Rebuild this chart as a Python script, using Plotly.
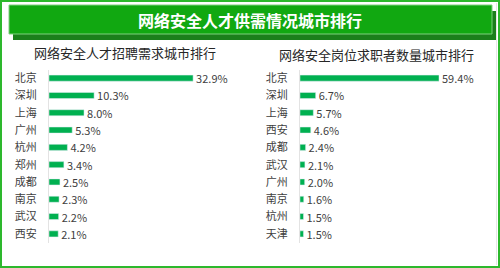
import plotly.graph_objects as go

W, H = 500, 268

left_title = "网络安全人才招聘需求城市排行"
left_cities = ["北京", "深圳", "上海", "广州", "杭州", "郑州", "成都", "南京", "武汉", "西安"]
left_values = [32.9, 10.3, 8.0, 5.3, 4.2, 3.4, 2.5, 2.3, 2.2, 2.1]

right_title = "网络安全岗位求职者数量城市排行"
right_cities = ["北京", "深圳", "上海", "西安", "成都", "武汉", "广州", "南京", "杭州", "天津"]
right_values = [59.4, 6.7, 5.7, 4.6, 2.4, 2.1, 2.0, 1.6, 1.5, 1.5]

main_title = "网络安全人才供需情况城市排行"

FONT = "Noto Sans CJK SC"
BAR = "#00b050"


def px(x):
    return x / W


def py(y):
    return 1 - y / H


fig = go.Figure()
fig.add_trace(go.Bar(
    x=left_values, y=left_cities, orientation="h", marker_color=BAR, width=0.35,
    text=[f"{v:.1f}%" for v in left_values], textposition="outside", constraintext="none",
    textfont=dict(size=11, color="#404040", family=FONT), cliponaxis=False,
    xaxis="x", yaxis="y", hoverinfo="skip"))
fig.add_trace(go.Bar(
    x=right_values, y=right_cities, orientation="h", marker_color=BAR, width=0.35,
    text=[f"{v:.1f}%" for v in right_values], textposition="outside", constraintext="none",
    textfont=dict(size=11, color="#404040", family=FONT), cliponaxis=False,
    xaxis="x2", yaxis="y2", hoverinfo="skip"))

ydom = [py(242.5), py(69.5)]
common_y = dict(type="category", showgrid=False, zeroline=False, showline=True,
                linecolor="#e3e3e3", linewidth=1, ticks="", ticklabelstandoff=9,
                tickfont=dict(size=11, color="#404040", family=FONT), domain=ydom)
common_x = dict(showgrid=False, zeroline=False, showline=False, showticklabels=False)

fig.update_layout(
    width=W, height=H, margin=dict(l=0, r=0, t=0, b=0),
    paper_bgcolor="white", plot_bgcolor="white", showlegend=False,
    font=dict(family=FONT),
    xaxis=dict(**common_x, domain=[px(49), px(240)], range=[0, 191 / 4.38]),
    yaxis=dict(**common_y, anchor="x", range=[9.5, -0.5],
               categoryorder="array", categoryarray=left_cities),
    xaxis2=dict(**common_x, domain=[px(300), px(490)], range=[0, 190 / 2.34]),
    yaxis2=dict(**common_y, anchor="x2", range=[9.5, -0.5],
                categoryorder="array", categoryarray=right_cities),
)

shapes = [
    # outer border
    dict(type="rect", xref="paper", yref="paper", x0=px(1), x1=px(499), y0=py(267), y1=py(1),
         line=dict(color="#2db82d", width=2), fillcolor="rgba(0,0,0,0)", layer="below"),
    dict(type="line", xref="paper", yref="paper", x0=px(496.5), x1=px(496.5), y0=py(265), y1=py(3),
         line=dict(color="#e6e6e6", width=1), layer="below"),
    # banner shadow
    dict(type="rect", xref="paper", yref="paper", x0=px(13), x1=px(496), y0=py(40), y1=py(11),
         line=dict(width=0), fillcolor="#1b7f1b", layer="below"),
    # banner
    dict(type="rect", xref="paper", yref="paper", x0=px(9), x1=px(492), y0=py(34), y1=py(5),
         line=dict(color="#7fd07f", width=1), fillcolor="#11a811", layer="below"),
]

annotations = [
    dict(text=f"<b>{main_title}</b>", x=px(250), y=py(20), xref="paper", yref="paper",
         showarrow=False, font=dict(size=16, color="white", family=FONT),
         xanchor="center", yanchor="middle"),
    dict(text=left_title, x=px(32), y=py(52.5), xref="paper", yref="paper",
         showarrow=False, font=dict(size=13, color="#262626", family=FONT),
         xanchor="left", yanchor="middle"),
    dict(text=right_title, x=px(277), y=py(54), xref="paper", yref="paper",
         showarrow=False, font=dict(size=13, color="#262626", family=FONT),
         xanchor="left", yanchor="middle"),
]
fig.update_layout(shapes=shapes, annotations=annotations)

fig.write_html("out.html")
